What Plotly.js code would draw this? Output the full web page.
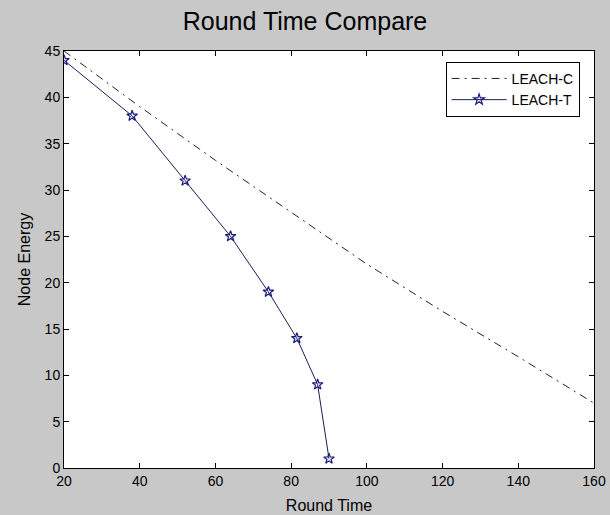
<!DOCTYPE html>
<html>
<head>
<meta charset="utf-8">
<script src="https://cdn.plot.ly/plotly-3.0.1.min.js"></script>
<style>
html,body{margin:0;padding:0;background:#c8c8c8;}
#chart{width:610px;height:515px;}
</style>
</head>
<body>
<div id="chart"></div>
<script>
// LEACH-C (dash-dot line)
const leachCRound = [20, 40, 60, 80, 100, 120, 140, 160];
const leachCEnergy = [45, 39.0, 33.2, 27.6, 22.0, 16.9, 12.0, 7];
// LEACH-T (line with star markers)
const leachTRound = [20, 38, 52, 64, 74, 81.5, 87, 90];
const leachTEnergy = [44, 38, 31, 25, 19, 14, 9, 1];

const xTicks = [20, 40, 60, 80, 100, 120, 140, 160];
const yTicks = [0, 5, 10, 15, 20, 25, 30, 35, 40, 45];

const FONT = 'Arial, Liberation Sans, sans-serif';

const traces = [
  {
    x: leachCRound, y: leachCEnergy, name: 'LEACH-C', type: 'scatter', mode: 'lines',
    line: {color: '#222222', width: 1, dash: '8px,5px,2px,5px'}
  },
  {
    x: leachTRound, y: leachTEnergy, name: 'LEACH-T', type: 'scatter', mode: 'lines+markers',
    line: {color: '#1c1c5c', width: 1},
    marker: {symbol: 'star-open', size: 8, color: '#1a1a80', line: {color: '#1a1a80', width: 1.2}}
  }
];

const axisCommon = {
  showgrid: false, zeroline: false, showline: true, linecolor: '#000', linewidth: 1,
  mirror: 'ticks', ticks: 'inside', ticklen: 5, tickcolor: '#000', tickwidth: 1,
  tickfont: {family: FONT, size: 14, color: '#000'}
};

const layout = {
  width: 610, height: 515,
  paper_bgcolor: '#c8c8c8', plot_bgcolor: '#ffffff',
  margin: {l: 64, r: 16, t: 51, b: 47},
  title: {text: 'Round Time Compare', font: {family: FONT, size: 25, color: '#000'},
          x: 0.5, xanchor: 'center', y: 0.958, yanchor: 'middle', yref: 'container'},
  xaxis: Object.assign({}, axisCommon, {
    range: [20, 160], tickvals: xTicks, ticktext: xTicks.map(String),
    title: {text: 'Round Time', font: {family: FONT, size: 16, color: '#000'}, standoff: 12}
  }),
  yaxis: Object.assign({}, axisCommon, {
    range: [0, 45], tickvals: yTicks, ticktext: yTicks.map(String),
    title: {text: 'Node Energy', font: {family: FONT, size: 16, color: '#000'}, standoff: 10}
  }),
  showlegend: true,
  legend: {
    x: 0.72, y: 0.974, xanchor: 'left', yanchor: 'top',
    bgcolor: '#ffffff', bordercolor: '#000', borderwidth: 1,
    font: {family: FONT, size: 14, color: '#000'},
    itemwidth: 55, tracegroupgap: 0
  }
};

Plotly.newPlot('chart', traces, layout, {displayModeBar: false, staticPlot: true});
</script>
</body>
</html>
